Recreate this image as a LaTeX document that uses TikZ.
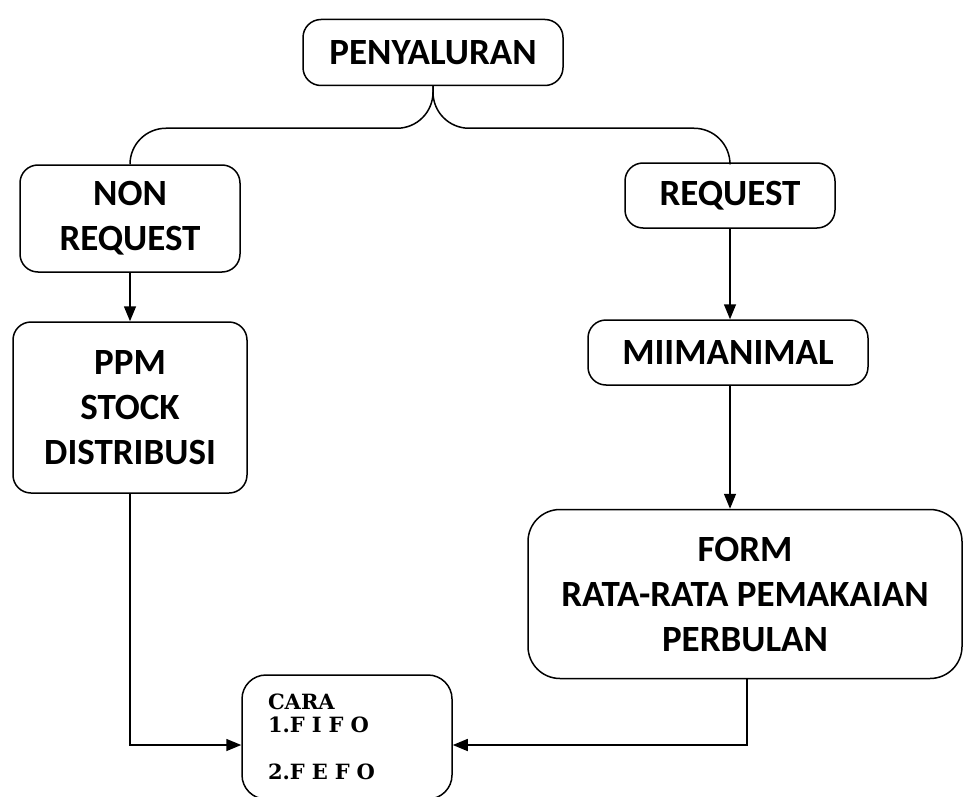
\documentclass[tikz,border=0pt]{standalone}
\usepackage{fontspec}
\setmainfont{Carlito}
\newfontfamily\caraserif{DejaVu Serif}
\usetikzlibrary{arrows.meta}
\usetikzlibrary{positioning}
\usetikzlibrary{calc}
\tikzset{
  blok/.style = {draw=black, line width=1.5pt, rounded corners=18pt,
    align=center, inner sep=0pt, font=\fontsize{37}{45}\selectfont\bfseries},% kotak biasa
  blok_l/.style = {blok, rounded corners=32pt},% kotak besar
  blok_c/.style = {draw=black, line width=1.5pt, rounded corners=24pt,
    align=left, inner xsep=26pt, inner ysep=0pt,
    font=\caraserif\fontsize{21}{23.5}\selectfont\bfseries}% kotak cara
}

\begin{document}
\begin{tikzpicture}[x=1pt,y=-1pt,line width=1.5pt,
  >={Triangle[length=15pt,width=12pt]}]
\useasboundingbox (0,0) rectangle (963,797);

\node [blok, minimum width=260pt, minimum height=66pt] (peny) at (433,52.5) {PENYALURAN};
\node [blok, minimum width=220pt, minimum height=107pt] (nonreq) at (130,218.5) {NON\\REQUEST};
\node [blok, minimum width=210pt, minimum height=65pt] (req) at (730,195.5) {REQUEST};
\node [blok, minimum width=234pt, minimum height=171pt] (ppm) at (130,407.5) {PPM\\STOCK\\DISTRIBUSI};
\node [blok, minimum width=280pt, minimum height=65pt] (mimin) at (728,352.5) {MIIMANIMAL};
\node [blok_l, minimum width=434pt, minimum height=169pt] (form) at (745,594) {FORM\\RATA-RATA PEMAKAIAN\\PERBULAN};
\node [blok_c, text width=158pt, minimum height=124pt] (cara) at (347,737) {CARA\\1.F I F O\\[23.5pt]2.F E F O};

% cabang
\draw[rounded corners=36pt] (peny.south) -- ++(0,42) -| (nonreq.north);
\draw[rounded corners=36pt] (peny.south) -- ++(0,42) -| (req.north);

\draw[->] (nonreq.south) -- (ppm.north);
\draw[->] (req.south) -- (req.south |- mimin.north);
\draw[->] (req.south |- mimin.south) -- (req.south |- form.north);
\draw[->] (ppm.south) |- ([yshift=-8pt]cara.west);
\draw[->] ([xshift=2pt]form.south) |- ([yshift=-8pt]cara.east);
\end{tikzpicture}
\end{document}
